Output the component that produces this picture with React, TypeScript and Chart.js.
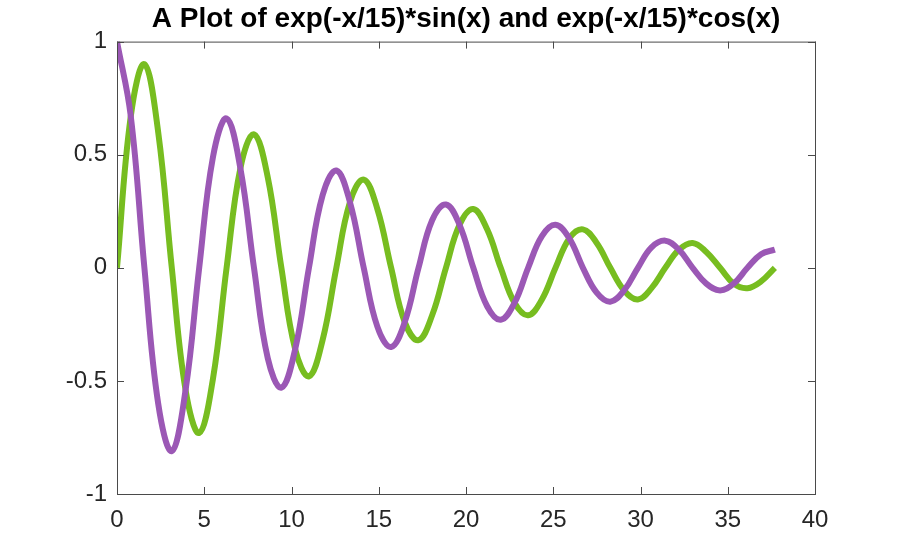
import { useEffect, useRef } from 'react';
import { Chart, registerables } from 'chart.js';

Chart.register(...registerables);

const xValues = [
  0, 0.79, 1.57, 2.36, 3.14, 3.93, 4.71, 5.5, 6.28, 7.07, 7.85, 8.64, 9.42,
  10.21, 11.0, 11.78, 12.57, 13.35, 14.14, 14.92, 15.71, 16.49, 17.28, 18.06,
  18.85, 19.63, 20.42, 21.21, 21.99, 22.78, 23.56, 24.35, 25.13, 25.92, 26.7,
  27.49, 28.27, 29.06, 29.85, 30.63, 31.42, 32.2, 32.99, 33.77, 34.56, 35.34,
  36.13, 36.91, 37.7,
];

// exp(-x/15)*sin(x) (green)
const sinValues = [
  0, 0.67, 0.9, 0.6, 0, -0.54, -0.73, -0.49, 0, 0.44, 0.59, 0.4, 0, -0.36,
  -0.48, -0.32, 0, 0.29, 0.39, 0.26, 0, -0.24, -0.32, -0.21, 0, 0.19, 0.26,
  0.17, 0, -0.155, -0.21, -0.14, 0, 0.13, 0.17, 0.11, 0, -0.1, -0.14, -0.09, 0,
  0.08, 0.11, 0.07, 0, -0.07, -0.09, -0.06, 0,
];

// exp(-x/15)*cos(x) (purple)
const cosValues = [
  1, 0.67, 0, -0.6, -0.81, -0.54, 0, 0.49, 0.66, 0.44, 0, -0.4, -0.53, -0.36,
  0, 0.32, 0.43, 0.29, 0, -0.26, -0.35, -0.24, 0, 0.21, 0.28, 0.19, 0, -0.17,
  -0.23, -0.155, 0, 0.14, 0.19, 0.13, 0, -0.11, -0.15, -0.1, 0, 0.09, 0.12,
  0.08, 0, -0.07, -0.1, -0.07, 0, 0.06, 0.08,
];

const xTicks = [0, 5, 10, 15, 20, 25, 30, 35, 40];
const yTicks = [-1, -0.5, 0, 0.5, 1];

const AXIS_COLOR = '#4a4a4a';
const TEXT_COLOR = '#262626';

// box around the axes with inward ticks on all four sides
const boxPlugin = {
  id: 'matlabBox',
  afterDraw(chart: any) {
    const { ctx, chartArea, scales } = chart;
    const { left, right, top, bottom } = chartArea;
    const len = 7;
    ctx.save();
    ctx.strokeStyle = AXIS_COLOR;
    ctx.lineWidth = 1;
    ctx.strokeRect(left + 0.5, top + 0.5, right - left, bottom - top);
    ctx.beginPath();
    xTicks.forEach((v) => {
      const px = Math.round(scales.x.getPixelForValue(v)) + 0.5;
      ctx.moveTo(px, bottom);
      ctx.lineTo(px, bottom - len);
      ctx.moveTo(px, top);
      ctx.lineTo(px, top + len);
    });
    yTicks.forEach((v) => {
      const py = Math.round(scales.y.getPixelForValue(v)) + 0.5;
      ctx.moveTo(left, py);
      ctx.lineTo(left + len, py);
      ctx.moveTo(right, py);
      ctx.lineTo(right - len, py);
    });
    ctx.stroke();
    ctx.restore();
  },
};

export default function App() {
  const canvasRef = useRef<HTMLCanvasElement>(null);

  useEffect(() => {
    const ctx = canvasRef.current?.getContext('2d');
    if (!ctx) return;

    const chart = new Chart(ctx, {
      type: 'line',
      data: {
        datasets: [
          {
            label: 'exp(-x/15)*cos(x)',
            data: xValues.map((x, i) => ({ x, y: cosValues[i] })),
            borderColor: '#9B58B5',
            borderWidth: 6,
            pointRadius: 0,
            tension: 0.4,
            order: 0,
          },
          {
            label: 'exp(-x/15)*sin(x)',
            data: xValues.map((x, i) => ({ x, y: sinValues[i] })),
            borderColor: '#77BD20',
            borderWidth: 6,
            pointRadius: 0,
            tension: 0.4,
            order: 1,
          },
        ],
      },
      options: {
        animation: false,
        responsive: true,
        maintainAspectRatio: false,
        layout: { padding: { left: 0, right: 85, top: 0, bottom: 0 } },
        plugins: {
          legend: { display: false },
          tooltip: { enabled: false },
          title: {
            display: true,
            fullSize: false,
            text: 'A Plot of exp(-x/15)*sin(x) and exp(-x/15)*cos(x)',
            color: '#000',
            font: { family: 'Liberation Sans', size: 28, weight: 'bold', lineHeight: 1.2 },
            padding: { top: 2, bottom: 6 },
          },
        },
        scales: {
          x: {
            type: 'linear',
            min: 0,
            max: 40,
            afterBuildTicks: (s: any) => {
              s.ticks = xTicks.map((value) => ({ value }));
            },
            afterFit: (s: any) => {
              s.height = 61;
            },
            grid: { display: false, drawTicks: false },
            border: { display: false },
            ticks: {
              color: TEXT_COLOR,
              font: { family: 'Liberation Sans', size: 24 },
              padding: 12,
              maxRotation: 0,
              callback: (v: any) => String(v),
            },
          },
          y: {
            type: 'linear',
            min: -1,
            max: 1,
            afterBuildTicks: (s: any) => {
              s.ticks = yTicks.map((value) => ({ value }));
            },
            afterFit: (s: any) => {
              s.width = 117;
            },
            grid: { display: false, drawTicks: false },
            border: { display: false },
            ticks: {
              color: TEXT_COLOR,
              font: { family: 'Liberation Sans', size: 24 },
              padding: 10,
              callback: (v: any) => String(v),
            },
          },
        },
      },
      plugins: [boxPlugin],
    });

    return () => chart.destroy();
  }, []);

  return (
    <div style={{ position: 'fixed', left: 0, top: 0, width: 900, height: 555, background: '#fff' }}>
      <canvas ref={canvasRef} />
    </div>
  );
}
